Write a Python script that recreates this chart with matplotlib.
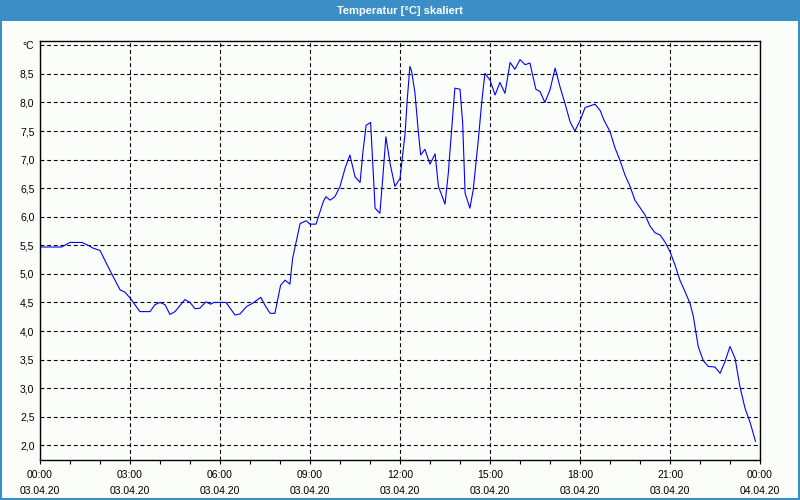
import matplotlib
matplotlib.use("Agg")
import matplotlib.pyplot as plt
from matplotlib.patches import Rectangle
from matplotlib.ticker import FuncFormatter, MultipleLocator

plt.rcParams['font.family'] = ['Liberation Sans', 'DejaVu Sans']

# hours since 03.04.20 00:00 and temperature in degC
hours = [0.0, 0.05, 0.72, 1.0, 1.4, 1.6, 1.77, 2.0, 2.39, 2.67, 2.83, 3.0, 3.33, 3.67, 3.83,
         4.0, 4.17, 4.33, 4.5, 4.83, 5.0, 5.17, 5.33, 5.53, 5.69, 5.8, 6.2, 6.5, 6.67, 6.89,
         7.1, 7.36, 7.5, 7.67, 7.83, 8.02, 8.17, 8.33, 8.42, 8.67, 8.87, 9.0, 9.2, 9.44, 9.53,
         9.67, 9.83, 10.0, 10.17, 10.33, 10.5, 10.67, 10.76, 10.87, 11.02, 11.17, 11.33, 11.42,
         11.53, 11.67, 11.83, 12.0, 12.17, 12.24, 12.33, 12.39, 12.5, 12.61, 12.69, 12.83, 13.0,
         13.17, 13.28, 13.39, 13.5, 13.61, 13.72, 13.83, 14.0, 14.09, 14.17, 14.33, 14.44, 14.61,
         14.72, 14.83, 15.0, 15.17, 15.33, 15.5, 15.67, 15.83, 16.0, 16.17, 16.33, 16.53, 16.67,
         16.83, 17.0, 17.17, 17.33, 17.5, 17.67, 17.83, 18.0, 18.17, 18.33, 18.5, 18.67, 18.8,
         19.0, 19.17, 19.33, 19.5, 19.67, 19.83, 20.0, 20.17, 20.33, 20.5, 20.67, 20.83, 21.0,
         21.17, 21.33, 21.5, 21.67, 21.78, 21.94, 22.11, 22.28, 22.5, 22.67, 22.83, 23.0, 23.17,
         23.33, 23.5, 23.67, 23.85]
temps = [5.5, 5.47, 5.47, 5.55, 5.55, 5.5, 5.45, 5.41, 5.0, 4.72, 4.68, 4.58, 4.34, 4.34, 4.46,
         4.5, 4.46, 4.29, 4.34, 4.55, 4.5, 4.39, 4.4, 4.51, 4.47, 4.5, 4.5, 4.28, 4.3, 4.43,
         4.49, 4.59, 4.45, 4.31, 4.31, 4.8, 4.89, 4.82, 5.27, 5.88, 5.93, 5.87, 5.87, 6.26, 6.35,
         6.29, 6.35, 6.53, 6.85, 7.08, 6.7, 6.6, 7.11, 7.6, 7.65, 6.15, 6.06, 6.64,
         7.4, 6.93, 6.53, 6.67, 7.46, 8.04, 8.63, 8.54, 8.16, 7.49, 7.08, 7.18, 6.92,
         7.1, 6.53, 6.38, 6.22, 6.76, 7.52, 8.25, 8.23, 7.63, 6.41, 6.15, 6.47, 7.34,
         7.98, 8.51, 8.39, 8.13, 8.35, 8.16, 8.7, 8.58, 8.75, 8.66, 8.69, 8.23, 8.19,
         8.0, 8.22, 8.6, 8.28, 7.98, 7.66, 7.5, 7.68, 7.91, 7.94, 7.97, 7.86, 7.69,
         7.49, 7.2, 6.99, 6.73, 6.53, 6.29, 6.16, 6.03, 5.84, 5.72, 5.68, 5.56, 5.39,
         5.15, 4.89, 4.69, 4.48, 4.25, 3.73, 3.48, 3.38, 3.37, 3.26, 3.46, 3.73, 3.52,
         3.03, 2.65, 2.4, 2.07]

x_ticks = [0, 3, 6, 9, 12, 15, 18, 21, 24]
x_labels = ["00:00\n03.04.20", "03:00\n03.04.20", "06:00\n03.04.20", "09:00\n03.04.20",
            "12:00\n03.04.20", "15:00\n03.04.20", "18:00\n03.04.20", "21:00\n03.04.20",
            "00:00\n04.04.20"]

title = "Temperatur [°C] skaliert"
bar_blue = "#3b8fc6"
bg = "#fbfdfb"

fig = plt.figure(figsize=(8, 5), dpi=100, facecolor=bg)

# title bar and window frame
fig.patches.append(Rectangle((0, 0.959), 1, 0.041, transform=fig.transFigure,
                             facecolor=bar_blue, edgecolor="none", zorder=0))
fig.patches.append(Rectangle((0.001, 0.002), 0.998, 0.996, transform=fig.transFigure,
                             facecolor="none", edgecolor=bar_blue, linewidth=1.5, zorder=0))
fig.text(0.5, 0.979, title, color="white", fontsize=8, fontweight="bold",
         ha="center", va="center")

ax = fig.add_axes([0.05, 0.08, 0.90, 0.838])
ax.set_facecolor(bg)
ax.plot(hours, temps, color="#0000ff", linewidth=0.8)

ax.set_xlim(0, 24)
ax.set_ylim(1.743, 9.075)

ax.set_xticks(x_ticks)
ax.set_xticklabels(x_labels, linespacing=1.75)
ax.xaxis.set_minor_locator(MultipleLocator(1))
ax.yaxis.set_major_locator(MultipleLocator(0.5))


def y_fmt(v, pos):
    if abs(v - 9.0) < 1e-6:
        return "°C"
    return f"{v:.1f}".replace(".", ",")


ax.yaxis.set_major_formatter(FuncFormatter(y_fmt))
ax.tick_params(axis="y", length=0, pad=4, labelsize=7.5)
ax.tick_params(axis="x", which="both", length=3, width=0.8, direction="out", pad=4, labelsize=7.5)

ax.grid(True, which="major", color="black", linestyle=(0, (3.5, 2.5)), linewidth=0.8)
for s in ax.spines.values():
    s.set_linewidth(1.0)
    s.set_color("black")

fig.savefig("out.png", dpi=100, facecolor=bg)
